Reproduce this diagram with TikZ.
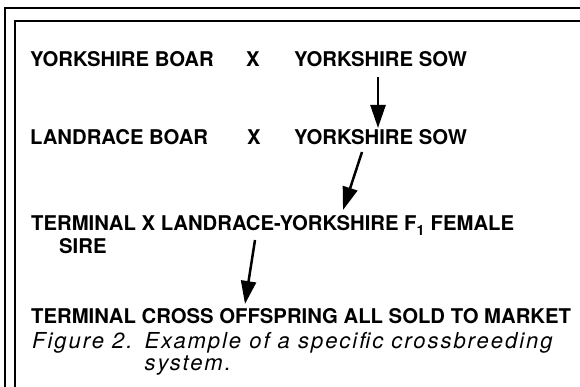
\documentclass[tikz,border=0pt]{standalone}
\usepackage{fontspec}
\setmainfont{TeX Gyre Heros}
\newfontfamily\capfont[LetterSpace=9]{TeX Gyre Heros}
\usetikzlibrary{arrows.meta,calc}
\begin{document}
\begin{tikzpicture}[x=1pt,y=-1pt,
  lbl/.style={anchor=base west,inner sep=0pt,font=\fontsize{20.3}{24}\selectfont\bfseries},
  arr/.style={line width=2.5pt,-{Triangle[length=23pt,width=15pt]}},
  frame/.style={line width=2.5pt}]
\useasboundingbox (0,0) rectangle (580,387);
% double rule along the top and left sides
\draw[frame] (5,387) -- (5,8) -- (580,8);
\draw[frame] (15,387) -- (15,21) -- (580,21);
% mating scheme
\node[lbl] (yboar) at (30,67) {YORKSHIRE BOAR};
\node[lbl] (cross1) at (246,67) {X};
\node[lbl] (ysow1) at (294,67) {YORKSHIRE SOW};
\node[lbl] (lboar) at (30,145) {LANDRACE BOAR};
\node[lbl] (cross2) at (247,145) {X};
\node[lbl] (ysow2) at (294,145) {YORKSHIRE SOW};
\node[lbl] (fone) at (31,230) {TERMINAL X LANDRACE-YORKSHIRE F\raisebox{-2pt}{\textsubscript{1}} FEMALE};
\node[lbl] (sire) at (59,253) {SIRE};
\node[lbl] (market) at (31,323) {TERMINAL CROSS OFFSPRING ALL SOLD TO MARKET};
% arrows between generations
\draw[arr] ($(ysow1.base west)+(84,10)$) -- ($(ysow2.base west)+(84,-17)$);
\draw[arr] ($(ysow2.base west)+(68,7)$) -- ($(fone.base west)+(312,-20)$);
\draw[arr] ($(fone.base west)+(224,10)$) -- ($(market.base west)+(214,-19)$);
% caption
\node[anchor=base west,inner sep=0pt,font=\fontsize{22}{22}\selectfont\capfont\itshape] (caption) at (32,348)
  {\begin{tabular}[t]{@{}l@{\hspace{12pt}}l@{}}Figure 2. & Example of a specific crossbreeding\\ & system.\end{tabular}};
\end{tikzpicture}
\end{document}
